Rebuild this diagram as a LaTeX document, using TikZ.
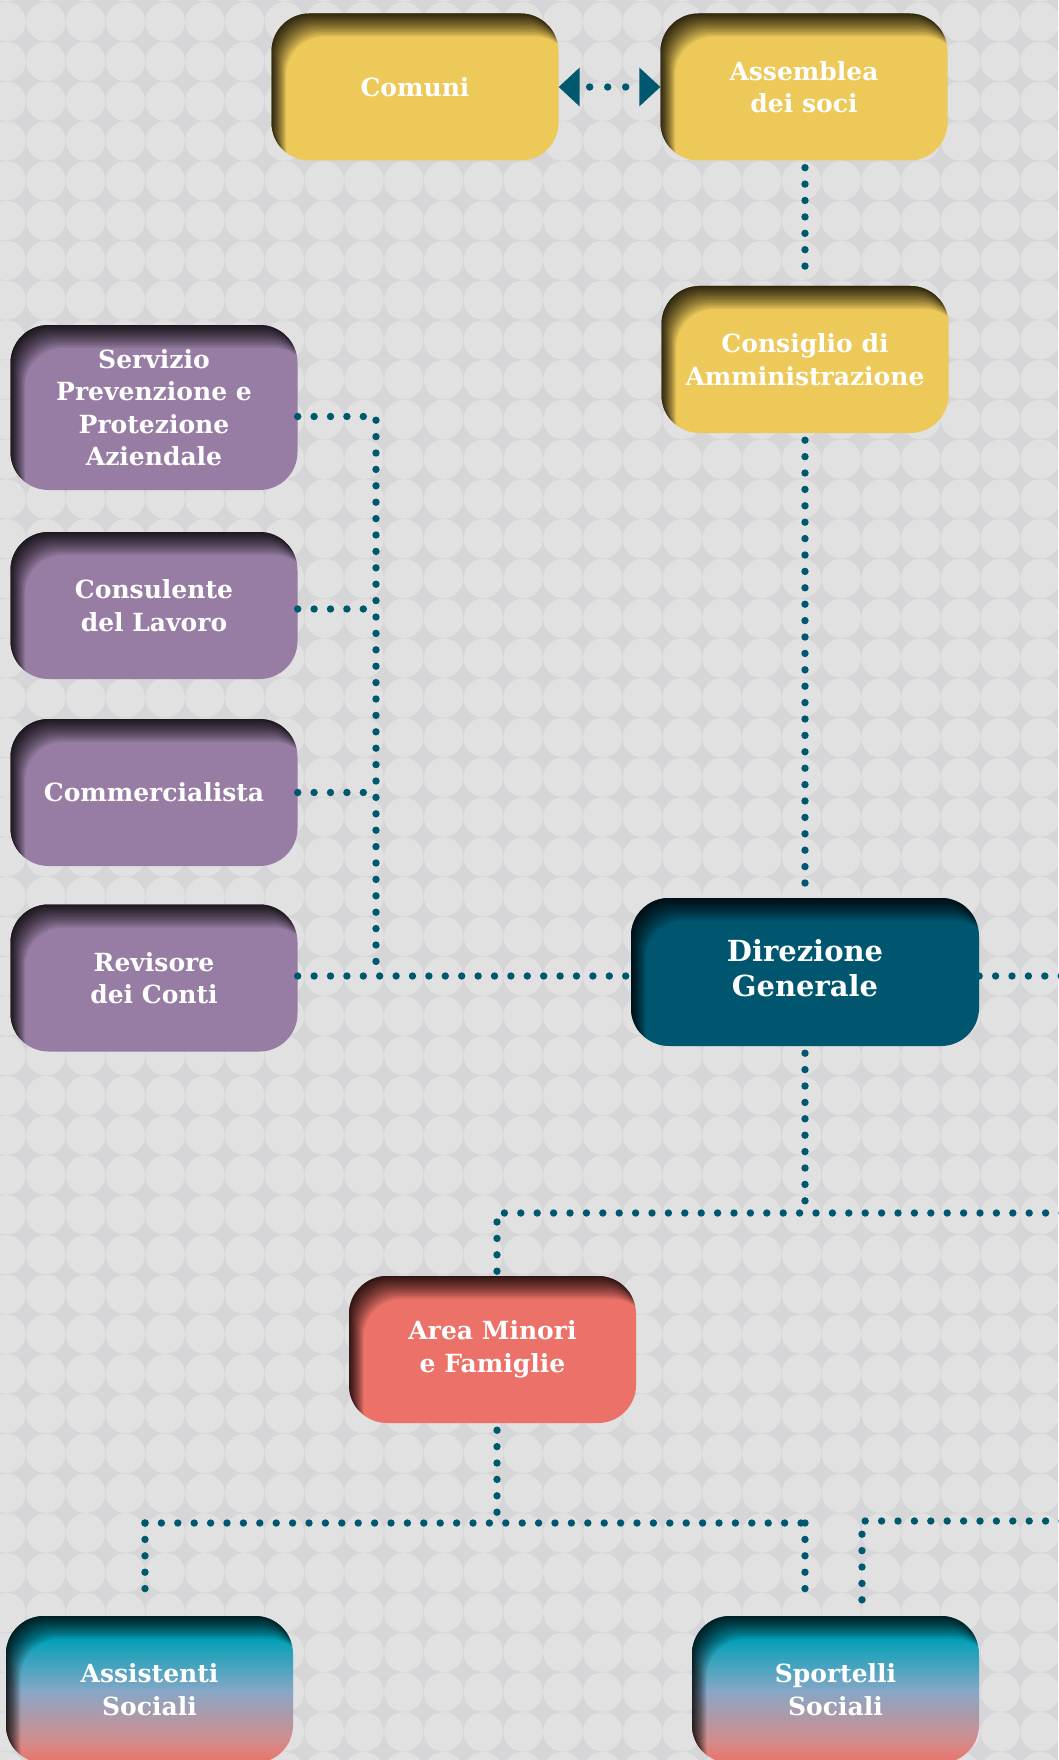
\documentclass[tikz,border=0pt]{standalone}
\usepackage{fontspec}
\setmainfont{DejaVu Serif}
\usetikzlibrary{arrows.meta}
\definecolor{bgcol}{HTML}{D6D6D9}
\definecolor{circcol}{HTML}{E1E1E1}
\definecolor{linecol}{HTML}{00586F}
\definecolor{yel}{HTML}{EDC95A}
\definecolor{pur}{HTML}{977DA3}
\definecolor{dteal}{HTML}{00566F}
\definecolor{coral}{HTML}{EC7269}
\definecolor{gteal}{HTML}{05A0B7}
\definecolor{gblue}{HTML}{88A7C6}
\definecolor{gpink}{HTML}{D48C8A}
\newcommand\boxshadow{%
  \foreach \k in {1,...,20}{%
    \pgfmathsetmacro\dx{0.22*pow(\k,1.4)}%
    \pgfmathsetmacro\dy{0.347*pow(\k,1.4)}%
    \fill[black, fill opacity=0.075, even odd rule, sharp corners]
      ([shift={(-60pt,60pt)}]path picture bounding box.north west) rectangle
      ([shift={(60pt,-60pt)}]path picture bounding box.south east)
      [rounded corners=38pt]
      ([shift={(\dx pt,-\dy pt)}]path picture bounding box.north west) rectangle
      ([shift={(\dx pt,-\dy pt)}]path picture bounding box.south east);
  }}
\newcommand\gradfill{%
  \fill[gteal, sharp corners] (path picture bounding box.north west) rectangle ([yshift=-25pt]path picture bounding box.north east);
  \shade[sharp corners, top color=gteal, bottom color=gblue] ([yshift=-24pt]path picture bounding box.north west) rectangle ([yshift=-76pt]path picture bounding box.north east);
  \shade[sharp corners, top color=gblue, bottom color=gpink] ([yshift=-75pt]path picture bounding box.north west) rectangle ([yshift=-126pt]path picture bounding box.north east);
  \shade[sharp corners, top color=gpink, bottom color=coral] ([yshift=-125pt]path picture bounding box.north west) rectangle (path picture bounding box.south east);
}
\tikzset{
  box/.style={rectangle, rounded corners=38pt, minimum width=287pt, minimum height=147pt,
    inner sep=0pt, align=center, text=white,
    font=\fontsize{25}{32.5}\selectfont\bfseries, path picture={\boxshadow}},
  gradbox/.style={box, path picture={\gradfill\boxshadow}},
  conn/.style={draw=linecol, line width=7.4pt, line cap=round, dash pattern=on 0pt off 16.4pt},
}
\begin{document}
\begin{tikzpicture}[x=1pt,y=-1pt]
\useasboundingbox (0,0) rectangle (1058,1760);
\fill[bgcol] (0,0) rectangle (1058,1760);
\begin{scope}
\clip (0,0) rectangle (1058,1760);
\foreach \i in {0,...,27}{\foreach \j in {-1,...,44}{\fill[circcol] ({6.1+\i*39.77},{21.7+\j*39.77}) circle[radius=19.7pt];}}
\end{scope}

% nodes
\node[box, fill=yel] (comuni) at (415,87) {Comuni};
\node[box, fill=yel] (assemblea) at (804,87) {Assemblea\\dei soci};
\node[box, fill=yel] (consiglio) at (805,359.5) {Consiglio di\\Amministrazione};
\node[box, fill=pur, minimum height=165pt] (servizio) at (154,407.5) {Servizio\\Prevenzione e\\Protezione\\Aziendale};
\node[box, fill=pur] (consulente) at (154,605.5) {Consulente\\del Lavoro};
\node[box, fill=pur] (commerc) at (154,792.5) {Commercialista};
\node[box, fill=pur] (revisore) at (154,978) {Revisore\\dei Conti};
\node[box, fill=dteal, minimum width=348pt, minimum height=148pt, font=\fontsize{29}{35}\selectfont\bfseries] (direzione) at (805,972) {Direzione\\Generale\\[-27pt]};
\node[box, fill=coral] (area) at (492.5,1349.5) {Area Minori\\e Famiglie};
\node[gradbox] (assistenti) at (149.5,1689.5) {Assistenti\\Sociali};
\node[gradbox] (sportelli) at (835.5,1689.5) {Sportelli\\Sociali};

% junction coordinates
\coordinate (lbus) at (376,976);
\coordinate (rend1) at (1062,976);
\coordinate (abus) at (497,1213);
\coordinate (rend2) at (1062,1213);
\coordinate (bbus) at (497,1523);
\coordinate (bl) at (145,1523);
\coordinate (br) at (805,1523);
\coordinate (blend) at (145,1604);
\coordinate (brend) at (805,1604);
\coordinate (sbus) at (862,1521);
\coordinate (rend3) at (1062,1521);

% connectors
\draw[conn, dash pattern=on 0pt off 18pt, dash phase=8pt,
  {Triangle[length=21pt,width=39pt,line width=0pt]}-{Triangle[length=21pt,width=39pt,line width=0pt]}]
  (comuni) -- (assemblea);
\draw[conn, shorten <=7pt, shorten >=7pt] (assemblea.south -| consiglio) -- (consiglio);
\draw[conn, shorten <=7pt, shorten >=7pt] (consiglio) -- (direzione);
\draw[conn] ([yshift=-9pt]servizio.east) -| (lbus);
\draw[conn] ([yshift=-3.5pt]consulente.east) -- ([yshift=-3.5pt]consulente.east -| lbus);
\draw[conn] (commerc.east) -- (commerc.east -| lbus);
\draw[conn] (revisore.east |- lbus) -- (direzione.west |- lbus);
\draw[conn] (direzione.east |- lbus) -- (rend1);
\draw[conn, shorten <=7pt] (direzione.south) -- (direzione.south |- abus);
\draw[conn] (rend2) -- (abus) -- (abus |- area.north);
\draw[conn, shorten <=7pt] (area.south -| abus) -- (bbus);
\draw[conn] (bl) -- (br);
\draw[conn] (bl) -- (blend);
\draw[conn] (br) -- (brend);
\draw[conn] (rend3) -- (sbus) -- (sbus |- sportelli.north);
\end{tikzpicture}
\end{document}
